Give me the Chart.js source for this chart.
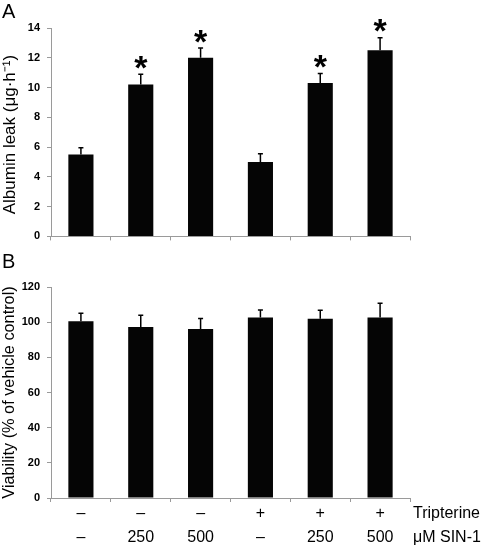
<!DOCTYPE html>
<html><head><meta charset="utf-8">
<script src="https://cdn.jsdelivr.net/npm/chart.js@4.4.1/dist/chart.umd.min.js"></script>
<style>
html,body{margin:0;padding:0;background:#fff;}
#wrap{position:relative;width:489px;height:547px;overflow:hidden;background:#fff;}
#a{position:absolute;left:0;top:0;width:489px;height:250px;}
#b{position:absolute;left:0;top:250px;width:489px;height:297px;}
</style></head><body>
<div id="wrap"><div id="a"><canvas id="ca"></canvas></div><div id="b"><canvas id="cb"></canvas></div></div>
<script>
// ---- data ----
const categories = ['g1','g2','g3','g4','g5','g6'];
const tripterineLabels = ['–','–','–','+','+','+'];
const sin1Labels = ['–','250','500','–','250','500'];
const albuminLeak = [5.5, 10.2, 12.0, 5.0, 10.3, 12.5];
const albuminErr = [0.45, 0.7, 0.65, 0.55, 0.65, 0.85];
const albuminSig = [false, true, true, false, true, true];
const viability = [100.5, 97.2, 96.1, 102.7, 102.0, 102.6];
const viabilityErr = [4.6, 6.8, 6.0, 4.2, 4.8, 8.2];
const albuminTicks = [0, 2, 4, 6, 8, 10, 12, 14];
const viabilityTicks = [0, 20, 40, 60, 80, 100, 120];
const panelLetters = ['A', 'B'];
const rowNames = ['Tripterine', 'μM SIN-1'];

const FONT = '"Liberation Sans", Arial, sans-serif';
const AXIS = '#9a9a9a';

function errorBars(errs) {
  return {
    id: 'errbars',
    afterDatasetsDraw(chart) {
      const meta = chart.getDatasetMeta(0);
      const ys = chart.scales.y;
      const vals = chart.data.datasets[0].data;
      const ctx = chart.ctx;
      ctx.save();
      ctx.strokeStyle = '#000';
      ctx.lineWidth = 1.5;
      meta.data.forEach((bar, i) => {
        const top = ys.getPixelForValue(vals[i] + errs[i]);
        ctx.beginPath();
        ctx.moveTo(bar.x, bar.y);
        ctx.lineTo(bar.x, top);
        ctx.moveTo(bar.x - 2.5, top);
        ctx.lineTo(bar.x + 2.5, top);
        ctx.stroke();
      });
      ctx.restore();
    }
  };
}

function letter(txt) {
  return {
    id: 'letter',
    afterDraw(chart) {
      const ctx = chart.ctx;
      ctx.save();
      ctx.fillStyle = '#000';
      ctx.font = '20px ' + FONT;
      ctx.textBaseline = 'alphabetic';
      ctx.textAlign = 'left';
      ctx.fillText(txt, 2, 18);
      ctx.restore();
    }
  };
}

const asterisks = {
  id: 'asterisks',
  afterDatasetsDraw(chart) {
    const meta = chart.getDatasetMeta(0);
    const ys = chart.scales.y;
    const ctx = chart.ctx;
    ctx.save();
    ctx.fillStyle = '#000';
    ctx.font = 'bold 34px ' + FONT;
    ctx.textAlign = 'center';
    ctx.textBaseline = 'alphabetic';
    const m = ctx.measureText('*');
    const mid = (m.actualBoundingBoxAscent - m.actualBoundingBoxDescent) / 2;
    meta.data.forEach((bar, i) => {
      if (!albuminSig[i]) return;
      const top = ys.getPixelForValue(albuminLeak[i] + albuminErr[i]);
      ctx.fillText('*', bar.x, top - 12 + mid);
    });
    ctx.restore();
  }
};

const rowLabels = {
  id: 'rowLabels',
  afterDraw(chart) {
    const xs = chart.scales.x;
    const ctx = chart.ctx;
    ctx.save();
    ctx.fillStyle = '#000';
    ctx.font = '16px ' + FONT;
    ctx.textAlign = 'left';
    ctx.textBaseline = 'middle';
    ctx.fillText(rowNames[0], chart.chartArea.right + 3, xs.top + 16);
    ctx.fillText(rowNames[1], chart.chartArea.right + 3, xs.top + 40);
    ctx.restore();
  }
};

function yAxis(min, max, tickArr, title, tsize) {
  return {
    min: min, max: max,
    afterBuildTicks: s => { s.ticks = tickArr.map(v => ({ value: v })); },
    afterFit: s => { s.width = 51; },
    ticks: { color: '#000', padding: 7, font: { family: FONT, size: 11, weight: 'bold' } },
    grid: { drawOnChartArea: false, tickLength: 4, color: AXIS },
    border: { color: AXIS, width: 1 },
    title: { display: true, text: title, color: '#000', padding: { top: 0, bottom: 0 },
             font: { family: FONT, size: tsize } }
  };
}

Chart.defaults.animation = false;

new Chart(document.getElementById('ca'), {
  type: 'bar',
  data: { labels: categories, datasets: [{ data: albuminLeak, backgroundColor: '#050505',
          barPercentage: 0.42, categoryPercentage: 1 }] },
  options: {
    responsive: true, maintainAspectRatio: false,
    layout: { padding: { top: 28, right: 79, left: 0, bottom: 0 } },
    plugins: { legend: { display: false }, tooltip: { enabled: false } },
    scales: {
      x: { grid: { drawOnChartArea: false, tickLength: 4, color: AXIS, offset: true },
           border: { color: AXIS }, ticks: { display: false },
           afterFit: s => { s.height = 12; } },
      y: yAxis(0, 14, albuminTicks, 'Albumin leak (μg·h\u207B\u00B9)\u00A0', 17)
    }
  },
  plugins: [errorBars(albuminErr), asterisks, letter(panelLetters[0])]
});

new Chart(document.getElementById('cb'), {
  type: 'bar',
  data: { labels: categories, datasets: [{ data: viability, backgroundColor: '#050505',
          barPercentage: 0.42, categoryPercentage: 1 }] },
  options: {
    responsive: true, maintainAspectRatio: false,
    layout: { padding: { top: 37, right: 79, left: 0, bottom: 0 } },
    plugins: { legend: { display: false }, tooltip: { enabled: false } },
    scales: {
      x: { grid: { drawOnChartArea: false, tickLength: 4, color: AXIS, offset: true },
           border: { color: AXIS },
           ticks: { color: '#000', padding: 0, maxRotation: 0, autoSkip: false,
                    font: { family: FONT, size: 16, lineHeight: 1.5 },
                    callback: (v, i) => [tripterineLabels[i], sin1Labels[i]] },
           afterFit: s => { s.height = 49; } },
      y: yAxis(0, 120, viabilityTicks, 'Viability (% of vehicle control)', 16.3)
    }
  },
  plugins: [errorBars(viabilityErr), rowLabels, letter(panelLetters[1])]
});
</script>
</body></html>
